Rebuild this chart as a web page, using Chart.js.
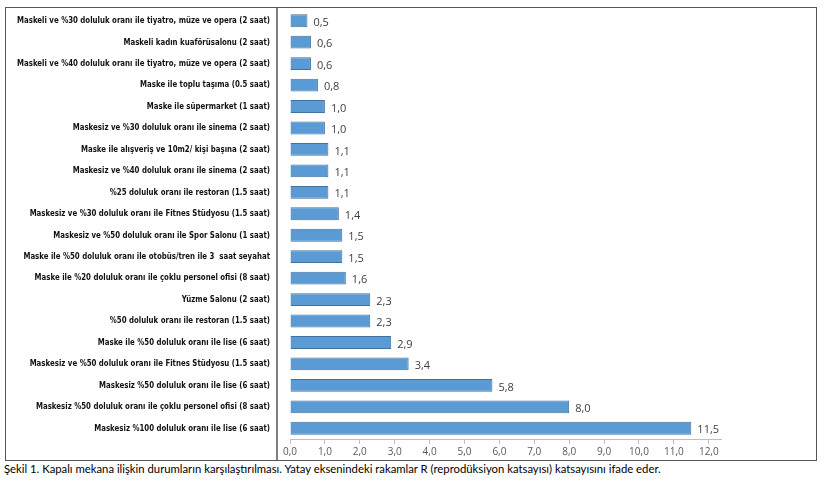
<!DOCTYPE html>
<html lang="tr">
<head>
    <meta charset="UTF-8">
    <script src="https://cdn.jsdelivr.net/npm/chart.js"></script>
    <title>Şekil 1</title>
    <style>
    body {
        margin: 0;
        background: #ffffff;
        width: 825px;
        height: 483px;
        position: relative;
        overflow: hidden;
    }
    #box {
        position: absolute;
        left: 5px;
        top: 7px;
        width: 810px;
        height: 452px;
        border: 1.5px solid #555555;
    }
    #caption {
        position: absolute;
        left: 4px;
        top: 462px;
        font-family: Lato, "Open Sans", sans-serif;
        font-size: 11.3px;
        color: #000000;
        white-space: nowrap;
    }
</style>
</head>
<body>
    <div id="box"><canvas id="chart" width="810" height="452"></canvas></div>
    <div id="caption">Şekil 1. Kapalı mekana ilişkin durumların karşılaştırılması. Yatay eksenindeki rakamlar R (reprodüksiyon katsayısı) katsayısını ifade eder.</div>

    <script>
        // kategoriler (yukarıdan aşağıya)
        const categories = [
            'Maskeli ve %30 doluluk oranı ile tiyatro, müze ve opera (2 saat)',
            'Maskeli kadın kuaförüsalonu (2 saat)',
            'Maskeli ve %40 doluluk oranı ile tiyatro, müze ve opera (2 saat)',
            'Maske ile toplu taşıma (0.5 saat)',
            'Maske ile süpermarket (1 saat)',
            'Maskesiz ve %30 doluluk oranı ile sinema (2 saat)',
            'Maske ile alışveriş ve 10m2/ kişi başına (2 saat)',
            'Maskesiz ve %40 doluluk oranı ile sinema (2 saat)',
            '%25 doluluk oranı ile restoran (1.5 saat)',
            'Maskesiz ve %30 doluluk oranı ile Fitnes Stüdyosu (1.5 saat)',
            'Maskesiz ve %50 doluluk oranı ile Spor Salonu (1 saat)',
            'Maske ile %50 doluluk oranı ile otobüs/tren ile 3  saat seyahat',
            'Maske ile %20 doluluk oranı ile çoklu personel ofisi (8 saat)',
            'Yüzme Salonu (2 saat)',
            '%50 doluluk oranı ile restoran (1.5 saat)',
            'Maske ile %50 doluluk oranı ile lise (6 saat)',
            'Maskesiz ve %50 doluluk oranı ile Fitnes Stüdyosu (1.5 saat)',
            'Maskesiz %50 doluluk oranı ile lise (6 saat)',
            'Maskesiz %50 doluluk oranı ile çoklu personel ofisi (8 saat)',
            'Maskesiz %100 doluluk oranı ile lise (6 saat)'
        ];

        // R katsayısı
        const rValues = [0.5, 0.6, 0.6, 0.8, 1.0, 1.0, 1.1, 1.1, 1.1, 1.4, 1.5, 1.5, 1.6, 2.3, 2.3, 2.9, 3.4, 5.8, 8.0, 11.5];

        // yatay eksen tikleri
        const tickValues = [0, 1, 2, 3, 4, 5, 6, 7, 8, 9, 10, 11, 12];
        const axisMax = 12.35;

        const fmt = v => v.toFixed(1).replace('.', ',');

        // kategori yazıları, değer etiketleri ve ayırıcı çizgi
        const labelsPlugin = {
            id: 'labelsPlugin',
            afterDatasetsDraw(chart) {
                const ctx = chart.ctx;
                const yScale = chart.scales.y;
                const meta = chart.getDatasetMeta(0);
                ctx.save();

                // sol taraftaki kategori yazıları (sıkıştırılmış kalın yazı)
                ctx.font = 'bold 9px "DejaVu Sans", sans-serif';
                ctx.fillStyle = '#111111';
                ctx.textBaseline = 'middle';
                ctx.textAlign = 'right';
                const widest = Math.max(...categories.map(c => ctx.measureText(c).width));
                const sx = 253 / widest;
                const rightX = yScale.right - 20;
                categories.forEach((c, i) => {
                    const y = yScale.getPixelForValue(i);
                    ctx.save();
                    ctx.translate(rightX, y);
                    ctx.scale(sx, 1);
                    ctx.fillText(c, 0, 0);
                    ctx.restore();
                });

                // değer etiketleri
                ctx.font = '11px "Open Sans", sans-serif';
                ctx.fillStyle = '#404040';
                ctx.textAlign = 'left';
                meta.data.forEach((bar, i) => {
                    ctx.fillText(fmt(rValues[i]), bar.x + 6, bar.y + 2);
                });

                // sol paneli ayıran çizgi
                const x = yScale.right - 13;
                ctx.strokeStyle = '#555555';
                ctx.lineWidth = 1.5;
                ctx.beginPath();
                ctx.moveTo(x, 0);
                ctx.lineTo(x, chart.height);
                ctx.stroke();
                ctx.restore();
            }
        };

        const ctx = document.getElementById('chart').getContext('2d');
        const chart = new Chart(ctx, {
            type: 'bar',
            data: {
                labels: categories,
                datasets: [{
                    data: rValues,
                    backgroundColor: '#5b9bd5',
                    borderColor: '#41719c',
                    borderWidth: 1,
                    categoryPercentage: 0.8,
                    barPercentage: 0.75
                }]
            },
            options: {
                indexAxis: 'y',
                responsive: false,
                animation: false,
                layout: {
                    padding: { left: 0, right: 95, top: 2, bottom: 0 }
                },
                plugins: {
                    legend: { display: false },
                    tooltip: { enabled: false }
                },
                scales: {
                    x: {
                        min: 0,
                        max: axisMax,
                        afterBuildTicks: s => {
                            s.ticks = tickValues.map(v => ({ value: v }));
                        },
                        ticks: {
                            color: '#595959',
                            font: { family: '"Open Sans", sans-serif', size: 10 },
                            padding: 2,
                            callback: v => fmt(v)
                        },
                        grid: {
                            drawOnChartArea: false,
                            color: '#bfbfbf',
                            tickLength: 5
                        },
                        border: { color: '#bfbfbf' }
                    },
                    y: {
                        afterFit: s => { s.width = 284; },
                        ticks: { display: false },
                        grid: { display: false },
                        border: { display: false }
                    }
                }
            },
            plugins: [labelsPlugin]
        });
    </script>
</body>
</html>
